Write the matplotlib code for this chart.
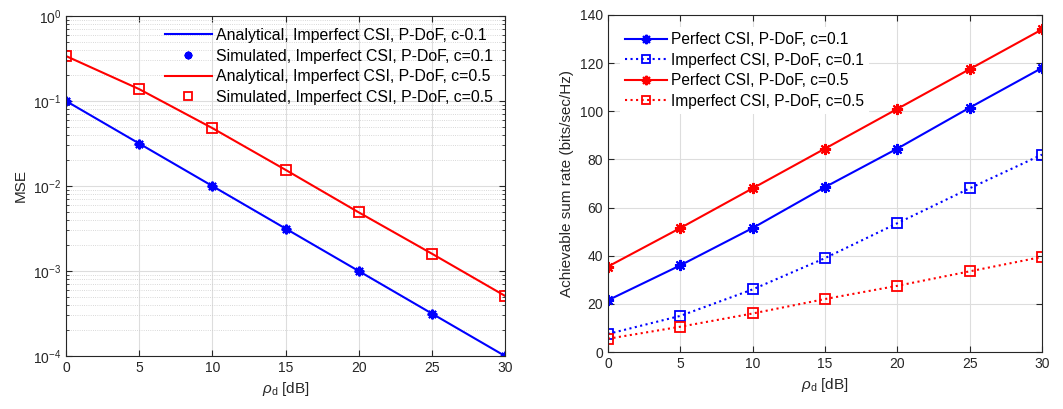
import numpy as np
import matplotlib.pyplot as plt
from matplotlib.ticker import LogLocator, NullFormatter

plt.rcParams['font.family'] = ['Liberation Sans', 'DejaVu Sans']
plt.rcParams['mathtext.fontset'] = 'custom'
plt.rcParams['mathtext.it'] = 'Liberation Sans:italic'
plt.rcParams['mathtext.rm'] = 'Liberation Sans'

rho = [0, 5, 10, 15, 20, 25, 30]

# left panel: MSE
mse_c01 = [0.1, 0.0316, 0.01, 0.00316, 0.001, 0.000316, 0.0001]
mse_c05 = [0.338, 0.138, 0.048, 0.0155, 0.0049, 0.0016, 0.00051]

# right panel: achievable sum rate
perf_c01 = [21.5, 36, 51.5, 68.5, 84.5, 101.5, 118]
imp_c01 = [7.5, 15, 26, 39, 53.5, 68, 82]
perf_c05 = [35.5, 51.5, 68, 84.5, 101, 117.5, 134]
imp_c05 = [5.5, 10.5, 16, 22, 27.5, 33.5, 39.5]

blue = '#0000ff'
red = '#ff0000'
ast = (8, 2, 0)
txt = '#262626'

fig = plt.figure(figsize=(10.63, 4.09), dpi=100)
ax1 = fig.add_axes([66/1063, 1-356/409, 439/1063, 340/409])
ax2 = fig.add_axes([608/1063, 1-352/409, 434/1063, 337/409])

for ax in (ax1, ax2):
    ax.tick_params(direction='in', top=True, right=True, labelsize=10, colors=txt, length=4)
    for s in ax.spines.values():
        s.set_color(txt)
        s.set_linewidth(0.8)
    ax.set_axisbelow(True)

# left
ax1.plot(rho, mse_c01, color=blue, lw=1.5, label='Analytical, Imperfect CSI, P-DoF, c-0.1')
ax1.plot(rho, mse_c01, ls='none', marker=ast, ms=7, mec=blue, mew=1.5,
         label='Simulated, Imperfect CSI, P-DoF, c=0.1')
ax1.plot(rho, mse_c05, color=red, lw=1.5, label='Analytical, Imperfect CSI, P-DoF, c=0.5')
ax1.plot(rho, mse_c05, ls='none', marker='s', ms=7, mfc='none', mec=red, mew=1.3,
         label='Simulated, Imperfect CSI, P-DoF, c=0.5')
ax1.set_yscale('log')
ax1.set_xlim(0, 30)
ax1.set_ylim(1e-4, 1)
ax1.set_xticks(rho)
ax1.yaxis.set_minor_locator(LogLocator(base=10, subs=np.arange(2, 10), numticks=20))
ax1.yaxis.set_minor_formatter(NullFormatter())
ax1.tick_params(which='minor', direction='in', right=True, length=2, colors=txt)
ax1.grid(True, which='major', color='#dddddd', lw=0.8)
ax1.grid(True, which='minor', color='#cccccc', lw=0.6, ls=':')
ax1.set_xlabel(r'$\rho_{\rm d}$ [dB]', fontsize=11, color=txt)
ax1.set_ylabel('MSE', fontsize=11, color=txt)
leg1 = ax1.legend(loc='upper right', fontsize=11.4, frameon=False,
                  borderaxespad=0.45, markerscale=0.8,
                  handlelength=3.0, handletextpad=0.25, labelspacing=0.36, borderpad=0.3)

# right
ax2.plot(rho, perf_c01, color=blue, lw=1.5, marker=ast, ms=8, mew=1.5,
         label='Perfect CSI, P-DoF, c=0.1')
ax2.plot(rho, imp_c01, color=blue, lw=1.5, ls=':', marker='s', ms=7, mfc='none', mew=1.3,
         label='Imperfect CSI, P-DoF, c=0.1')
ax2.plot(rho, perf_c05, color=red, lw=1.5, marker=ast, ms=8, mew=1.5,
         label='Perfect CSI, P-DoF, c=0.5')
ax2.plot(rho, imp_c05, color=red, lw=1.5, ls=':', marker='s', ms=7, mfc='none', mew=1.3,
         label='Imperfect CSI, P-DoF, c=0.5')
ax2.set_xlim(0, 30)
ax2.set_ylim(0, 140)
ax2.set_xticks(rho)
ax2.set_yticks(range(0, 141, 20))
ax2.grid(True, color='#dddddd', lw=0.8)
ax2.set_xlabel(r'$\rho_{\rm d}$ [dB]', fontsize=11, color=txt)
ax2.set_ylabel('Achievable sum rate (bits/sec/Hz)', fontsize=11, color=txt)
ax2.legend(loc='upper left', fontsize=11.2, frameon=True, fancybox=False,
           edgecolor='none', facecolor='white', framealpha=1, borderaxespad=0.8,
           markerscale=0.85,
           handlelength=2.7, handletextpad=0.25, labelspacing=0.36, borderpad=0.3)

fig.savefig('out.png', dpi=100)
